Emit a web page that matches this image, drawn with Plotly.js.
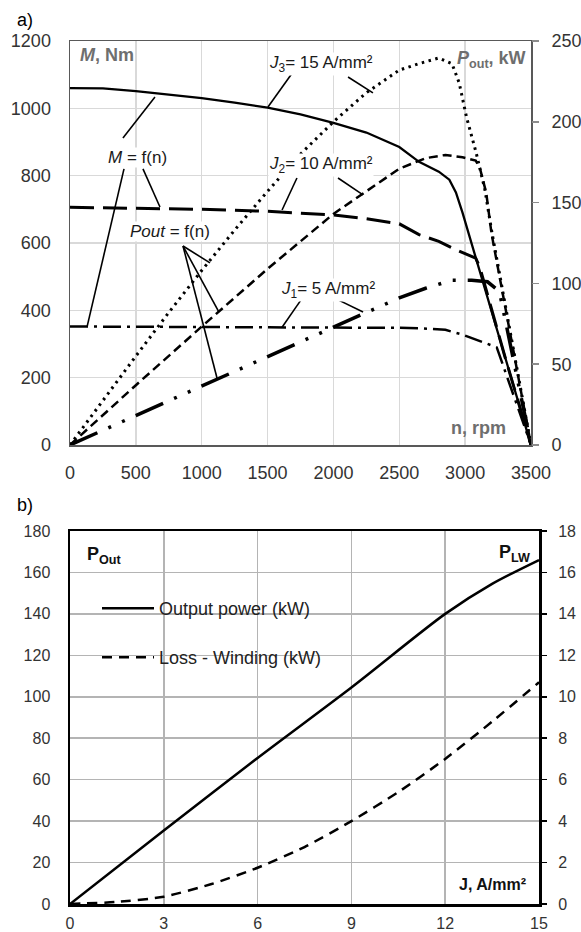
<!DOCTYPE html>
<html><head><meta charset="utf-8">
<script src="https://cdn.plot.ly/plotly-3.0.1.min.js"></script>
<style>html,body{margin:0;padding:0;background:#fff}#chart{width:581px;height:932px}</style>
</head><body><div id="chart"></div>
<script>
// ---------- Chart a) : torque M (Nm, left axis) and output power Pout (kW, right axis) vs speed n (rpm)
const speedJ3M  = [0,250,500,750,1000,1250,1500,1750,2000,2250,2500,2650,2800,2880,2930,2980,3030,3080,3300,3500];
const torqueJ3  = [1060,1059,1051,1041,1030,1017,1002,982,957,928,885,841,812,788,750,690,624,560,265,0];
const speedJ2M  = [0,500,1000,1500,2000,2250,2500,2650,2800,2930,3080,3110,3300,3500];
const torqueJ2  = [706,704,700,694,683,672,657,625,605,580,555,530,265,0];
const speedJ1M  = [0,1000,2000,2500,2650,2850,2980,3140,3240,3500];
const torqueJ1  = [352,351,350,348,347,342,328,306,290,0];

const speedJ3P  = [0,250,500,750,1000,1250,1500,1750,2000,2250,2500,2650,2800,2900,2955,3010,3045,3083,3150,3200,3500];
const powerJ3   = [0,27.7,55,82,108,133,157,180,200,218,232,236,239.5,236,224,203,193,181,158,133,0];
const speedJ2P  = [0,500,1000,1500,2000,2250,2500,2700,2850,2980,3080,3110,3160,3200,3500];
const powerJ2   = [0,37,73.3,109,143,157,171,177.5,179.5,178,176,172,156,131,0];
const speedJ1P  = [0,500,1000,1500,2000,2250,2500,2700,2900,3050,3170,3260,3500];
const powerJ1   = [0,18.3,36.8,55,73.3,82,91,97,102,102,101,95,0];

// ---------- Chart b) : output power (kW, left) and winding loss (kW, right) vs current density J
const currentDensity = [0,3,6,9,12,13.5,15];
const outputPower    = [0,35.5,70.5,104.5,140,154.5,166];
const lossDensity    = [0,1.5,3,4.5,6,7.5,9,10.5,12,13.5,15];
const lossWinding    = [0,0.1,0.35,0.95,1.75,2.75,4.0,5.4,7.0,8.8,10.7];

const seriesNames = ['Output power (kW)', 'Loss - Winding (kW)'];

const FONT = 'Liberation Sans, Arial, sans-serif';
const W = 581, H = 932;
const px = v => v / W, py = v => 1 - v / H;

const traces = [
  {x: speedJ3M, y: torqueJ3, xaxis:'x', yaxis:'y', mode:'lines', line:{color:'#000', width:2.3}, showlegend:false, hoverinfo:'skip'},
  {x: speedJ2M, y: torqueJ2, xaxis:'x', yaxis:'y', mode:'lines', line:{color:'#000', width:3, dash:'24px,9px'}, showlegend:false, hoverinfo:'skip'},
  {x: speedJ1M, y: torqueJ1, xaxis:'x', yaxis:'y', mode:'lines', line:{color:'#000', width:2.5, dash:'18px,6px,3px,6px'}, showlegend:false, hoverinfo:'skip'},
  {x: speedJ3P, y: powerJ3, xaxis:'x', yaxis:'y2', mode:'lines', line:{color:'#000', width:3, dash:'2.5px,4.5px'}, showlegend:false, hoverinfo:'skip'},
  {x: speedJ2P, y: powerJ2, xaxis:'x', yaxis:'y2', mode:'lines', line:{color:'#000', width:2.5, dash:'9px,5px'}, showlegend:false, hoverinfo:'skip'},
  {x: speedJ1P, y: powerJ1, xaxis:'x', yaxis:'y2', mode:'lines', line:{color:'#000', width:3.5, dash:'30px,12px,3px,12px,3px,12px'}, showlegend:false, hoverinfo:'skip'},
  {x: currentDensity, y: outputPower, xaxis:'x3', yaxis:'y3', mode:'lines', name: seriesNames[0], legend:'legend', line:{color:'#000', width:2.5, shape:'spline', smoothing:0.8}, hoverinfo:'skip'},
  {x: lossDensity, y: lossWinding, xaxis:'x3', yaxis:'y4', mode:'lines', name: seriesNames[1], legend:'legend2', line:{color:'#000', width:2.5, dash:'10px,7px', shape:'spline', smoothing:0.6}, hoverinfo:'skip'}
];

const leader = (x0,y0,x1,y1) => ({type:'line', xref:'x', yref:'y', x0, y0, x1, y1, line:{color:'#000', width:1.6}});
const shapes = [
  leader(402,912,645,1034),
  leader(410,820,129,350),
  leader(554,820,683,707),
  leader(858,591,1063,541),
  leader(858,591,1131,395),
  leader(858,591,1116,199),
  leader(1693,1108,1503,1004),
  leader(2111,1093,2300,1046),
  leader(1723,793,1610,698),
  leader(2035,793,2225,743),
  leader(1754,431,1610,350),
  leader(1989,440,2225,395)
];

const lab = (text, x, y, xanchor) => ({text, x, y, xref:'x', yref:'y', xanchor: xanchor||'center', yanchor:'middle', showarrow:false, bgcolor:'#fff', borderpad:0, font:{family:FONT, size:17, color:'#1a1a1a'}});
const paperLab = (text, x, y, xanchor, size, color) => ({text, x:px(x), y:py(y), xref:'paper', yref:'paper', xanchor, yanchor:'middle', showarrow:false, font:{family:FONT, size, color}});

const annotations = [
  lab('<i>M</i> = f(n)', 516, 855),
  lab('<i>Pout</i> = f(n)', 759, 633),
  lab('<i>J</i><sub>3</sub>= 15 A/mm²', 1503, 1132, 'left'),
  lab('<i>J</i><sub>2</sub>= 10 A/mm²', 1503, 832, 'left'),
  lab('<i>J</i><sub>1</sub>= 5 A/mm²', 1594, 460, 'left'),
  paperLab('a)', 15, 20, 'left', 18, '#000'),
  paperLab('b)', 15, 505, 'left', 18, '#000'),
  paperLab('<b><i>M</i>, Nm</b>', 78, 55, 'left', 18, '#6e6e6e'),
  paperLab('<b><i>P</i><sub>out</sub>, kW</b>', 528, 59, 'right', 18, '#6e6e6e'),
  paperLab('<b>n, rpm</b>', 508, 428, 'right', 18, '#6e6e6e'),
  paperLab('<b>P<sub>Out</sub></b>', 85, 555, 'left', 18, '#111'),
  paperLab('<b>P<sub>LW</sub></b>', 532, 553, 'right', 18, '#111'),
  paperLab('<b>J, A/mm²</b>', 528, 884, 'right', 16, '#111')
];

const gridA = {showgrid:true, gridcolor:'#d9d9d9', gridwidth:1.5, zeroline:false, fixedrange:true};
const gridB = {showgrid:true, gridcolor:'#b4b4b4', gridwidth:1.5, zeroline:false, fixedrange:true};

const layout = {
  width: W, height: H,
  margin:{l:0, r:0, t:0, b:0},
  paper_bgcolor:'#fff', plot_bgcolor:'#fff',
  font:{family:FONT, color:'#333', size:17},
  showlegend:true,
  xaxis: Object.assign({domain:[px(70), px(531)], anchor:'y', range:[0,3500], dtick:500, showline:true, mirror:true, linecolor:'#595959', linewidth:1.5, ticks:'', tickfont:{size:18, color:'#333'}, ticklabelstandoff:11}, gridA),
  yaxis: Object.assign({domain:[py(445), py(41)], anchor:'x', range:[0,1200], dtick:200, showline:true, mirror:true, linecolor:'#595959', linewidth:1.5, ticks:'', tickfont:{size:18, color:'#333'}, ticklabelstandoff:14}, gridA),
  yaxis2: {overlaying:'y', anchor:'x', side:'right', range:[0,250], dtick:50, showgrid:false, zeroline:false, showline:false, ticks:'outside', ticklen:7, tickwidth:1.5, tickcolor:'#8c8c8c', tickfont:{size:18, color:'#333'}, ticklabelstandoff:9, fixedrange:true},
  xaxis3: Object.assign({domain:[px(70), px(539)], anchor:'y3', range:[0,15], dtick:3, showline:true, mirror:true, linecolor:'#000', linewidth:2.5, ticks:'', tickfont:{size:16, color:'#333'}, ticklabelstandoff:3}, gridB),
  yaxis3: Object.assign({domain:[py(904), py(531)], anchor:'x3', range:[0,180], dtick:20, showline:true, mirror:true, linecolor:'#000', linewidth:2.5, ticks:'', tickfont:{size:16, color:'#333'}, ticklabelstandoff:14}, gridB),
  yaxis4: {overlaying:'y3', anchor:'x3', side:'right', range:[0,18], dtick:2, showgrid:false, zeroline:false, showline:true, linecolor:'#000', linewidth:3, ticks:'outside', ticklen:5, tickwidth:1.5, tickcolor:'#000', tickfont:{size:16, color:'#333'}, ticklabelstandoff:8, fixedrange:true},
  legend: {x:px(97), y:py(590), xanchor:'left', yanchor:'top', bgcolor:'rgba(0,0,0,0)', borderwidth:0, itemwidth:52, font:{family:FONT, size:18, color:'#222'}},
  legend2: {x:px(97), y:py(639), xanchor:'left', yanchor:'top', bgcolor:'rgba(0,0,0,0)', borderwidth:0, itemwidth:52, font:{family:FONT, size:18, color:'#222'}},
  shapes, annotations
};

Plotly.newPlot('chart', traces, layout, {displayModeBar:false, staticPlot:true});
</script></body></html>
